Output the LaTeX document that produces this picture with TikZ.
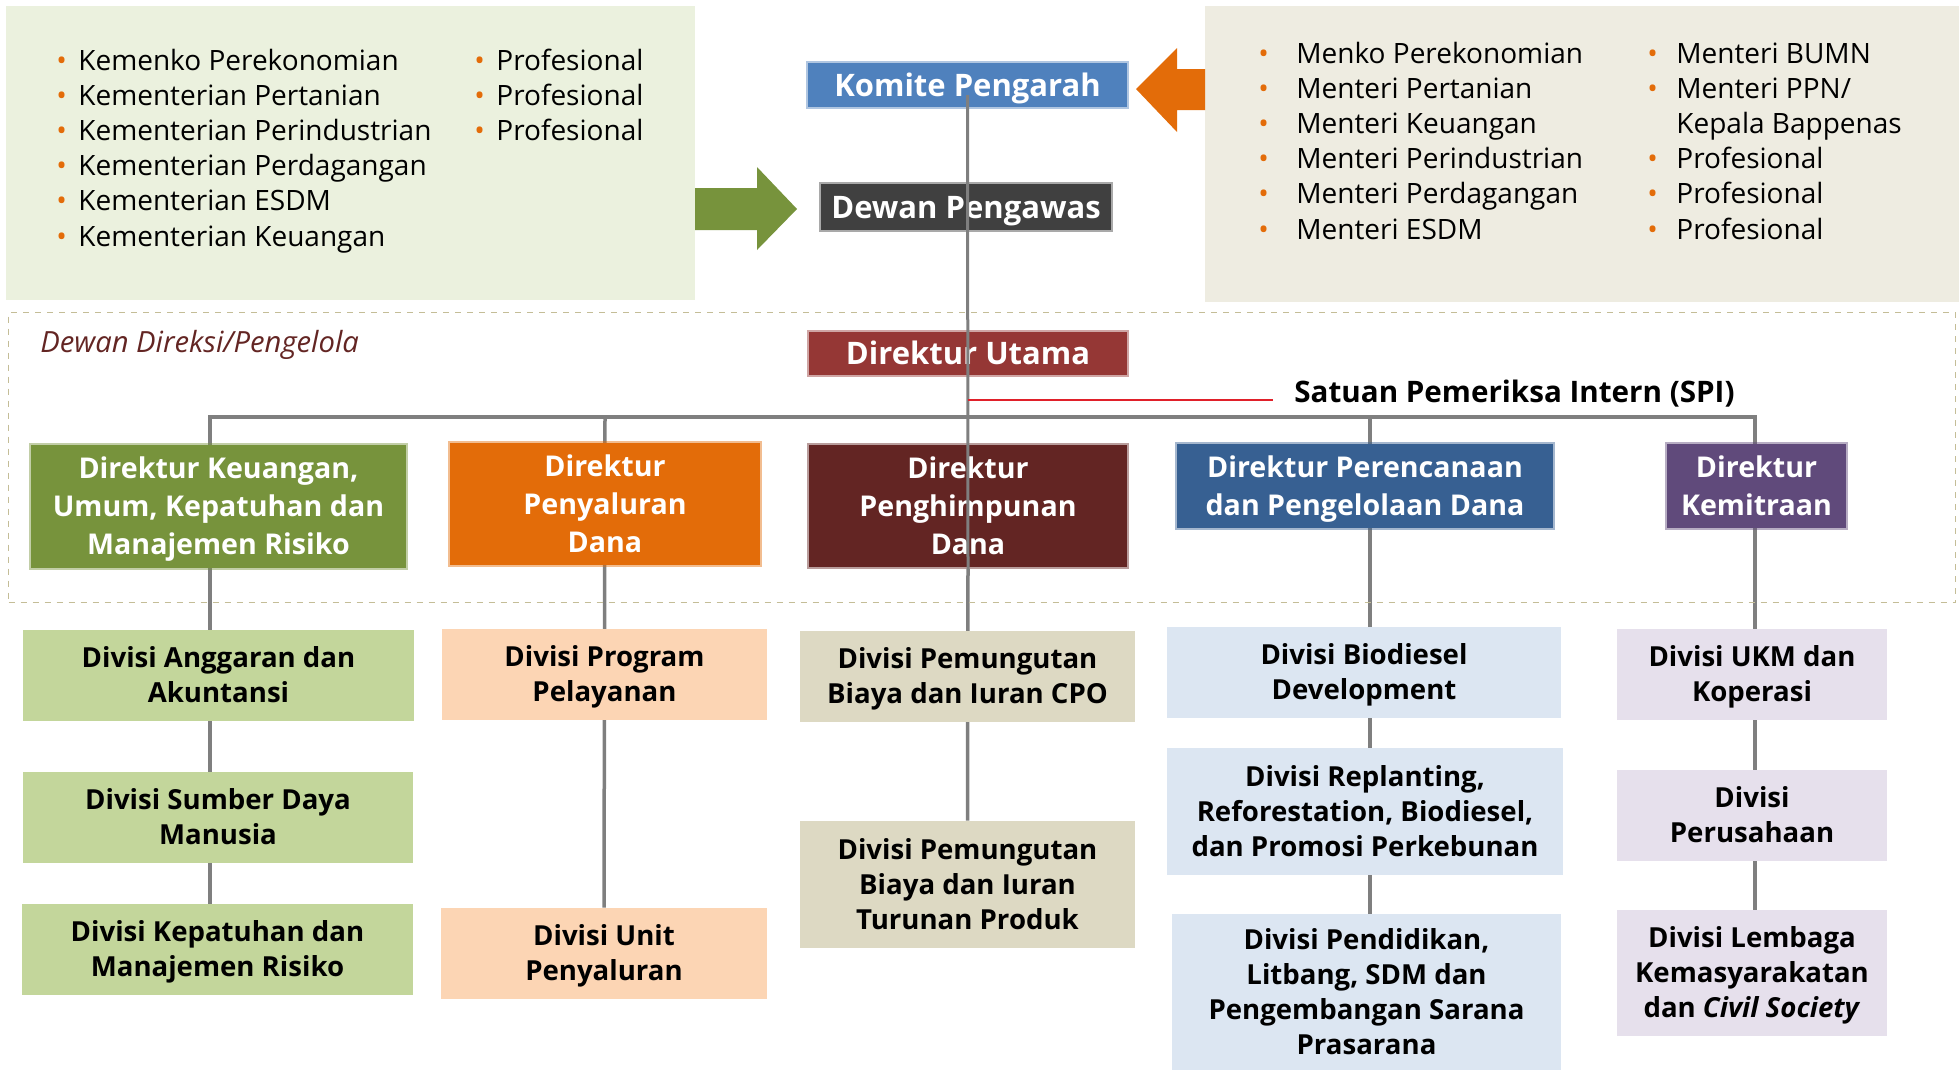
\documentclass[tikz,border=0pt]{standalone}
\usepackage{fontspec}
\setmainfont{Open Sans}
\usetikzlibrary{backgrounds}

\definecolor{lpanel}{HTML}{EBF1DE}
\definecolor{rpanel}{HTML}{EEECE1}
\definecolor{bulor}{HTML}{E36C09}
\definecolor{kpblue}{HTML}{4F81BD}
\definecolor{dpgray}{HTML}{404040}
\definecolor{dured}{HTML}{953735}
\definecolor{dkgreen}{HTML}{77933C}
\definecolor{dpyorange}{HTML}{E36C09}
\definecolor{dphred}{HTML}{632523}
\definecolor{dprblue}{HTML}{376092}
\definecolor{dkmpurple}{HTML}{604A7B}
\definecolor{divA}{HTML}{C3D69B}
\definecolor{divB}{HTML}{FCD5B4}
\definecolor{divC}{HTML}{DDD9C3}
\definecolor{divD}{HTML}{DCE6F2}
\definecolor{divE}{HTML}{E6E0EC}
\definecolor{linegray}{HTML}{7F7F7F}
\definecolor{spired}{HTML}{E0202A}
\definecolor{dashc}{HTML}{C4BD97}

\newcommand{\bul}[1]{\makebox[#1][l]{\textcolor{bulor}{\fontsize{14}{14}\selectfont\textbullet}}}
% struts: same line box for every first and last line
\newcommand{\ts}{\rule{0pt}{0.97em}}
\newcommand{\bs}{\rule[-0.25em]{0pt}{0.25em}}

\begin{document}
\begin{tikzpicture}[x=0.5pt,y=-0.5pt,
    boxtop/.style={fill=#1, draw=#1, draw opacity=0.45, line width=2pt, text=white, inner sep=0pt, align=center, font=\fontsize{15.5}{18}\selectfont\bfseries, execute at end node=\bs},
    dirbox/.style={fill=#1, draw=#1, draw opacity=0.45, line width=2pt, text=white, inner sep=0pt, align=center, font=\fontsize{14.3}{19}\selectfont\bfseries, execute at end node=\bs},
    divbox/.style={fill=#1, inner sep=0pt, align=center, font=\fontsize{13.8}{17.5}\selectfont\bfseries, execute at end node=\bs},
    lst/.style={anchor=base west, inner sep=0pt, align=left, font=\fontsize{14}{17.6}\selectfont},
    conn/.style={draw=linegray, line width=1.75pt},
    trunk/.style={draw=linegray, line width=1.5pt}]
    \useasboundingbox (0,0) rectangle (1959,1071);

    % panels
    \node[fill=lpanel, inner sep=0pt, minimum width=344.5pt, minimum height=147pt, anchor=north west] (PL) at (6,6) {};
    \node[fill=rpanel, inner sep=0pt, minimum width=377pt, minimum height=148pt, anchor=north west] (PR) at (1205,6) {};
    \node[draw=dashc, dashed, line width=0.6pt, inner sep=0pt, minimum width=973.5pt, minimum height=145pt, anchor=north west] (DD) at (8,312) {};

    % lists (base = last line)
    \node[lst] (L1) at (56,246) {\bul{11pt}Kemenko Perekonomian\\ \bul{11pt}Kementerian Pertanian\\ \bul{11pt}Kementerian Perindustrian\\ \bul{11pt}Kementerian Perdagangan\\ \bul{11pt}Kementerian ESDM\\ \bul{11pt}Kementerian Keuangan};
    \node[lst] (L2) at (474,140.4) {\bul{11pt}Profesional\\ \bul{11pt}Profesional\\ \bul{11pt}Profesional};
    \node[lst] (R1) at (1258,239) {\bul{19pt}Menko Perekonomian\\ \bul{19pt}Menteri Pertanian\\ \bul{19pt}Menteri Keuangan\\ \bul{19pt}Menteri Perindustrian\\ \bul{19pt}Menteri Perdagangan\\ \bul{19pt}Menteri ESDM};
    \node[lst] (R2) at (1647,239) {\bul{14.5pt}Menteri BUMN\\ \bul{14.5pt}Menteri PPN/\\ \hspace*{14.5pt}Kepala Bappenas\\ \bul{14.5pt}Profesional\\ \bul{14.5pt}Profesional\\ \bul{14.5pt}Profesional};

    % block arrows
    \fill[dkgreen] (695,188) -- (757,188) -- (757,167) -- (797,209) -- (757,250) -- (757,230) -- (695,230) -- cycle;
    \fill[dpyorange] (1205,69) -- (1177,69) -- (1177,48) -- (1136,89) -- (1177,132) -- (1177,110) -- (1205,110) -- cycle;

    \node[boxtop=kpblue, minimum width=159.5pt, minimum height=22pt] (KP) at (967.5,85) {\ts Komite Pengarah};
    \node[boxtop=dpgray, minimum width=145pt, minimum height=23pt] (DP) at (966,207) {\ts Dewan Pengawas};
    \node[boxtop=dured, minimum width=159pt, minimum height=21.5pt] (DU) at (968,353.5) {\ts Direktur Utama};

    \node[anchor=base west, inner sep=0pt, text=dphred, font=\fontsize{14.6}{17}\selectfont\itshape] (DDL) at (40,352) {Dewan Direksi/Pengelola};
    \node[anchor=base west, inner sep=0pt, font=\fontsize{14.8}{17}\selectfont\bfseries] (SPI) at (1294,402) {Satuan Pemeriksa Intern (SPI)};

    \node[dirbox=dkgreen, minimum width=187.5pt, minimum height=61.5pt] (DK) at (218.5,506.5) {\ts Direktur Keuangan,\\Umum, Kepatuhan dan\\Manajemen Risiko};
    \node[dirbox=dpyorange, minimum width=155pt, minimum height=61pt] (DPy) at (605,504) {\ts Direktur\\Penyaluran\\Dana};
    \node[dirbox=dphred, minimum width=159pt, minimum height=61pt] (DPh) at (968,506) {\ts Direktur\\Penghimpunan\\Dana};
    \node[dirbox=dprblue, minimum width=188pt, minimum height=42pt] (DPr) at (1365,486) {\ts Direktur Perencanaan\\dan Pengelolaan Dana};
    \node[dirbox=dkmpurple, minimum width=89.5pt, minimum height=42pt] (DKm) at (1756.5,486) {\ts Direktur\\Kemitraan};

    \node[divbox=divA, minimum width=195.5pt, minimum height=45.5pt] (A1) at (218.5,675.5) {\ts Divisi Anggaran dan\\Akuntansi};
    \node[divbox=divA, minimum width=195pt, minimum height=45.5pt] (A2) at (218,817.5) {\ts Divisi Sumber Daya\\Manusia};
    \node[divbox=divA, minimum width=195.5pt, minimum height=45.5pt] (A3) at (217.5,949.5) {\ts Divisi Kepatuhan dan\\Manajemen Risiko};
    \node[divbox=divB, minimum width=162.5pt, minimum height=45.5pt] (B1) at (604.5,674.5) {\ts Divisi Program\\Pelayanan};
    \node[divbox=divB, minimum width=163pt, minimum height=45.5pt] (B2) at (604,953.5) {\ts Divisi Unit\\Penyaluran};
    \node[divbox=divC, minimum width=167.5pt, minimum height=45.5pt] (C1) at (967.5,676.5) {\ts Divisi Pemungutan\\Biaya dan Iuran CPO};
    \node[divbox=divC, minimum width=167.5pt, minimum height=63.5pt] (C2) at (967.5,884.5) {\ts Divisi Pemungutan\\Biaya dan Iuran\\Turunan Produk};
    \node[divbox=divD, minimum width=197pt, minimum height=45.5pt] (D1) at (1364,672.5) {\ts Divisi Biodiesel\\Development};
    \node[divbox=divD, minimum width=198pt, minimum height=63.5pt] (D2) at (1365,811.5) {\ts Divisi Replanting,\\Reforestation, Biodiesel,\\dan Promosi Perkebunan};
    \node[divbox=divD, minimum width=194.5pt, minimum height=78pt] (D3) at (1366.5,992) {\ts Divisi Pendidikan,\\Litbang, SDM dan\\Pengembangan Sarana\\Prasarana};
    \node[divbox=divE, minimum width=135pt, minimum height=45.5pt] (E1) at (1752,674.5) {\ts Divisi UKM dan\\Koperasi};
    \node[divbox=divE, minimum width=135pt, minimum height=45.5pt] (E2) at (1752,815.5) {\ts Divisi\\Perusahaan};
    \node[divbox=divE, minimum width=135pt, minimum height=63pt] (E3) at (1752,973) {\ts Divisi Lembaga\\Kemasyarakatan\\dan \textit{Civil Society}};

    \coordinate (BA) at (210,417);
    \coordinate (BD) at (1370,417);
    \coordinate (BE) at (1755,417);
    \coordinate (SE) at (1273,400);
    \begin{scope}[on background layer]
        \draw[conn] (A3.north -| BA) -- (BA) -- (BE) -- (E3.north -| BE);
        \draw[conn] (DPy.north |- BA) -- (B2.north);
        \draw[conn] (BD) -- (D3.north -| BD);
        \draw[conn] (DPh.south) -- (C2.north);
    \end{scope}
    \draw[trunk] ([yshift=7pt]KP.south) -- (DPh.south);
    \draw[spired, line width=0.8pt] (DU.south |- SE) -- (SE);
\end{tikzpicture}
\end{document}
